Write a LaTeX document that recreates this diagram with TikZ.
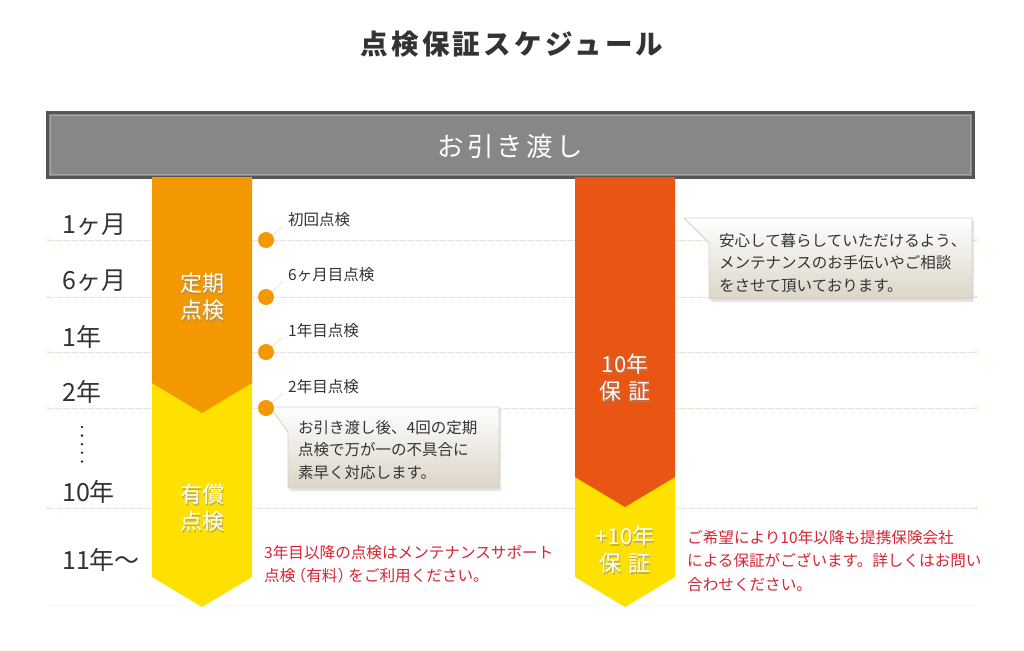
\documentclass[tikz,border=0pt]{standalone}
\usepackage{fontspec}
\setmainfont{Noto Sans CJK JP}
\newfontfamily\titlefont[LetterSpace=12]{Noto Sans CJK JP}
\newfontfamily\bandfont[LetterSpace=12]{Noto Sans CJK JP}
\usetikzlibrary{calc}
\definecolor{txt}{HTML}{333333}
\definecolor{orgA}{HTML}{F39800}
\definecolor{yel}{HTML}{FFE100}
\definecolor{redO}{HTML}{E95513}
\definecolor{redT}{HTML}{D62434}
\definecolor{gridc}{HTML}{D8D6CF}
\definecolor{bandfill}{HTML}{878787}
\definecolor{banddark}{HTML}{555555}
\definecolor{calloutB}{HTML}{DCD5C7}
\definecolor{calloutL}{HTML}{D5D1C8}
\tikzset{
  x=1pt, y=-1pt,
  gridline/.style={gridc, line width=1pt, dash pattern=on 1pt off 1pt},
  enddot/.style={circle, fill=orgA!40, inner sep=0pt, minimum size=2.5pt},
  yearlbl/.style={anchor=west, text=txt, font=\fontsize{25}{27}\selectfont, inner sep=0pt},
  dot/.style={circle, fill=orgA, inner sep=0pt, minimum size=16pt},
  insplbl/.style={anchor=west, text=txt, font=\fontsize{15.5}{18}\selectfont, inner sep=1pt},
  lead/.style={orgA!25, line width=0.8pt},
  coltext/.style={text=white, align=center, font=\fontsize{22}{27}\selectfont, inner sep=0pt},
  colshadow/.style={text=black!45, opacity=0.6, align=center, font=\fontsize{22}{27}\selectfont, inner sep=0pt},
  callout/.style={top color=white, bottom color=calloutB, draw=calloutL, line width=0.8pt},
  calloutshadow/.style={fill=black, opacity=0.10},
  callouttext/.style={anchor=west, align=left, text=txt, font=\fontsize{15.5}{22.8}\selectfont, inner sep=0pt},
  redtext/.style={anchor=west, align=left, text=redT, font=\fontsize{15.6}{23.3}\selectfont, inner sep=0pt},
}
\begin{document}
\begin{tikzpicture}
\useasboundingbox (0,0) rectangle (1024,650);
\fill[white] (0,0) rectangle (1024,650);

% title
\node[text=txt, font=\titlefont\bfseries\fontsize{27.5}{30}\selectfont] (title) at (512,44) {点検保証スケジュール};

% grid lines
\foreach \i/\yy in {1/240,2/297,3/352,4/408,5/508}{
  \coordinate (ga\i) at (48,\yy);
  \coordinate (gb\i) at (976,\yy);
  \draw[gridline] (ga\i) -- (gb\i);
  \node[enddot] at (ga\i) {};
  \node[enddot] at (gb\i) {};
}
\coordinate (ga6) at (48,605);
\coordinate (gb6) at (976,605);
\draw[gridline, opacity=0.3] (ga6) -- (gb6);

% band
\fill[banddark] (46,111) rectangle (975,179);
\fill[bandfill] (49,114) rectangle (972,176);
\draw[black!35!white, line width=0.7pt] (50.5,115.5) rectangle (970.5,174.5);
\node[text=white, font=\bandfont\fontsize{26.5}{30}\selectfont] (band) at (510,146) {お引き渡し};

% left column
\fill[yel] (152,378) -- (152,577) -- (202,607) -- (252,577) -- (252,378) -- cycle;
\fill[orgA] (152,177) -- (152,383) -- (202,413) -- (252,383) -- (252,177) -- cycle;
\node[colshadow] at (203.2,298.2) {定期\\点検};
\node[coltext] (teiki) at (202,297) {定期\\点検};
\node[colshadow] at (203.2,509.2) {有償\\点検};
\node[coltext] (yusho) at (202,508) {有償\\点検};

% right column
\fill[yel] (575,470) -- (575,577) -- (625,607) -- (675,577) -- (675,470) -- cycle;
\fill[redO] (575,177) -- (575,477) -- (625,507) -- (675,477) -- (675,177) -- cycle;
\node[colshadow] at (626.2,379.2) {10年\\保\hspace{0.3em}証};
\node[coltext] (hosho) at (625,378) {10年\\保\hspace{0.3em}証};
\node[colshadow] at (626.2,551.2) {+10年\\保\hspace{0.3em}証};
\node[coltext] (hosho2) at (625,550) {+10年\\保\hspace{0.3em}証};

% year labels
\node[yearlbl] (y1) at (62,225) {1ヶ月};
\node[yearlbl] (y2) at (62,281) {6ヶ月};
\node[yearlbl] (y3) at (62,337) {1年};
\node[yearlbl] (y4) at (62,392) {2年};
\foreach \k in {0,...,4}{ \fill[txt] (82,{427+\k*8.6}) circle (1.4pt); }
\node[yearlbl] (y5) at (62,492) {10年};
\node[yearlbl] (y6) at (62,560) {11年～};

% callout 1
\fill[calloutshadow] (274,409) -- (501,409) -- (501,491) -- (290,491) -- (290,435) -- cycle;
\path[callout] (270,407) -- (499,407) -- (499,488) -- (288,488) -- (288,432) -- cycle;
\node[callouttext] (c1) at (298,450) {お引き渡し後、4回の定期\\点検で万が一の不具合に\\素早く対応します。};

% inspection dots and labels
\node[insplbl] (i1) at (287,220) {初回点検};
\node[insplbl] (i2) at (287,275) {6ヶ月目点検};
\node[insplbl] (i3) at (287,331) {1年目点検};
\node[insplbl] (i4) at (287,387) {2年目点検};
\coordinate (d1) at (266,240);
\coordinate (d2) at (266,297);
\coordinate (d3) at (266,352);
\coordinate (d4) at (266,408);
\foreach \i in {1,2,3,4}{
  \draw[lead] (d\i) -- ($(i\i.south west)+(-4,-2)$);
  \node[dot] (dd\i) at (d\i) {};
}

% callout 2
\fill[calloutshadow] (687,220) -- (974,220) -- (974,302) -- (711,302) -- (711,245) -- cycle;
\path[callout] (684,218) -- (972,218) -- (972,299) -- (709,299) -- (709,243) -- cycle;
\node[callouttext] (c2) at (719,263) {安心して暮らしていただけるよう、\\メンテナンスのお手伝いやご相談\\をさせて頂いております。};

% red notes
\node[redtext] (r1) at (264,564) {3年目以降の点検はメンテナンスサポート\\点検\kern-0.3em（有料）\kern-0.3emをご利用ください。};
\node[redtext] (r2) at (687,561) {ご希望により10年以降も提携保険会社\\による保証がございます。詳しくはお問い\\合わせください。};
\end{tikzpicture}
\end{document}
